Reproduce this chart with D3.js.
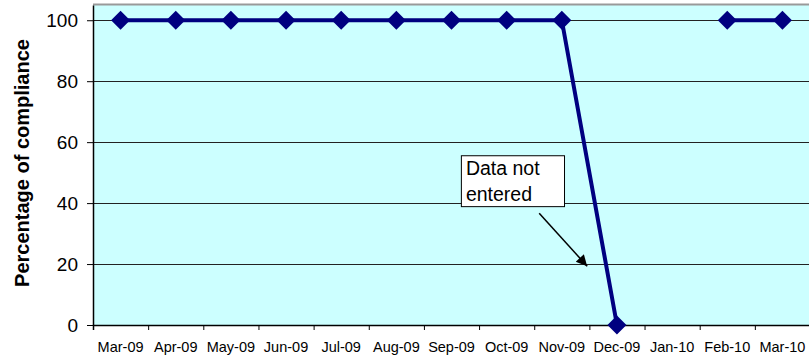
<!DOCTYPE html>
<html>
<head>
<meta charset="utf-8">
<script src="https://cdn.jsdelivr.net/npm/d3@7"></script>
<style>
  html, body { margin: 0; padding: 0; background: #ffffff; }
  svg { display: block; font-family: Arial, "Liberation Sans", sans-serif; }
</style>
</head>
<body>
<svg id="chart" width="809" height="360"></svg>
<script>
// Monthly compliance, March 2009 – March 2010 (null = no data entered)
const months = ["Mar-09", "Apr-09", "May-09", "Jun-09", "Jul-09", "Aug-09", "Sep-09",
                "Oct-09", "Nov-09", "Dec-09", "Jan-10", "Feb-10", "Mar-10"];
const compliance = [100, 100, 100, 100, 100, 100, 100, 100, 100, 0, null, 100, 100];
const yTicks = [0, 20, 40, 60, 80, 100];
const yTitle = "Percentage of compliance";
const noteLines = ["Data not", "entered"];

const svg = d3.select("#chart");
const plot = { left: 93, right: 810, top: 5, bottom: 325 };

const x = d3.scaleBand().domain(months).range([plot.left, plot.right]).paddingInner(0).paddingOuter(0);
const xEdge = d3.scaleLinear().domain([0, months.length]).range([plot.left, plot.right]);
const y = d3.scaleLinear().domain([0, 105]).range([plot.bottom, plot.top]);

// plot background
svg.append("rect")
  .attr("x", plot.left).attr("y", plot.top)
  .attr("width", plot.right - plot.left).attr("height", plot.bottom - plot.top)
  .attr("fill", "#ccffff");

// top border of the plot area
svg.append("line")
  .attr("x1", plot.left).attr("x2", plot.right)
  .attr("y1", plot.top - 0.5).attr("y2", plot.top - 0.5)
  .attr("stroke", "#999999").attr("stroke-width", 2);

// horizontal gridlines
svg.append("g").selectAll("line")
  .data(yTicks.filter(t => t > 0))
  .join("line")
  .attr("x1", plot.left).attr("x2", plot.right)
  .attr("y1", d => Math.round(y(d)) + 0.5).attr("y2", d => Math.round(y(d)) + 0.5)
  .attr("stroke", "#222222").attr("stroke-width", 1);

// y axis
const yAxis = svg.append("g")
  .attr("transform", `translate(${plot.left},0)`)
  .call(d3.axisLeft(y).tickValues(yTicks).tickSize(6).tickPadding(9).tickSizeOuter(0));
yAxis.select(".domain").attr("stroke", "#000").attr("stroke-width", 1.5);
yAxis.selectAll(".tick line").attr("stroke", "#000");
yAxis.selectAll(".tick text")
  .attr("font-size", 19).attr("fill", "#000")
  .attr("font-family", "Arial, 'Liberation Sans', sans-serif");

// x axis: tick marks on category boundaries, labels centred in each category
const xTicks = svg.append("g")
  .attr("transform", `translate(0,${plot.bottom})`)
  .call(d3.axisBottom(xEdge).tickValues(d3.range(0, months.length + 1)).tickSize(5).tickFormat(""));
xTicks.select(".domain").attr("stroke", "#000").attr("stroke-width", 1.5);
xTicks.selectAll(".tick line").attr("stroke", "#000");

const xLabels = svg.append("g")
  .attr("transform", `translate(0,${plot.bottom})`)
  .call(d3.axisBottom(x).tickSize(0).tickPadding(17));
xLabels.select(".domain").remove();
xLabels.selectAll(".tick text")
  .attr("font-size", 14.5).attr("fill", "#000")
  .attr("font-family", "Arial, 'Liberation Sans', sans-serif");

// y axis title
svg.append("text")
  .attr("transform", `translate(29,163) rotate(-90)`)
  .attr("text-anchor", "middle")
  .attr("font-size", 20).attr("font-weight", "bold")
  .text(yTitle);

// compliance series
const cx = d => x(d.m) + x.bandwidth() / 2;
const points = months.map((m, i) => ({ m, v: compliance[i] }));

svg.append("path")
  .datum(points)
  .attr("fill", "none")
  .attr("stroke", "#000080")
  .attr("stroke-width", 4)
  .attr("stroke-linejoin", "round")
  .attr("d", d3.line().defined(d => d.v != null).x(cx).y(d => y(d.v)));

const r = 9.5;
svg.append("g").selectAll("path")
  .data(points.filter(d => d.v != null))
  .join("path")
  .attr("transform", d => `translate(${cx(d)},${y(d.v)})`)
  .attr("d", `M0,${-r}L${r},0L0,${r}L${-r},0Z`)
  .attr("fill", "#000080");

// callout for the missing month
const note = svg.append("g");
const boxX0 = xEdge(6.67), boxX1 = xEdge(8.54);
const boxY0 = y(55.7), boxY1 = y(39);
note.append("rect")
  .attr("x", boxX0 + 0.5).attr("y", boxY0 + 0.5)
  .attr("width", boxX1 - boxX0).attr("height", boxY1 - boxY0)
  .attr("fill", "#ffffff").attr("stroke", "#000").attr("stroke-width", 1);
note.selectAll("text")
  .data(noteLines)
  .join("text")
  .attr("x", boxX0 + 5)
  .attr("y", (d, i) => boxY0 + 20 + i * 26)
  .attr("font-size", 19.5)
  .text(d => d);

svg.append("defs").append("marker")
  .attr("id", "arrowhead")
  .attr("viewBox", "0 0 10 10")
  .attr("refX", 10).attr("refY", 5)
  .attr("markerWidth", 14).attr("markerHeight", 11)
  .attr("markerUnits", "userSpaceOnUse")
  .attr("orient", "auto")
  .append("path")
  .attr("d", "M0,0L10,5L0,10Z")
  .attr("fill", "#000");

note.append("line")
  .attr("x1", xEdge(8.09)).attr("y1", y(36.7))
  .attr("x2", xEdge(8.96)).attr("y2", y(19.3))
  .attr("stroke", "#000").attr("stroke-width", 1.5)
  .attr("marker-end", "url(#arrowhead)");
</script>
</body>
</html>
